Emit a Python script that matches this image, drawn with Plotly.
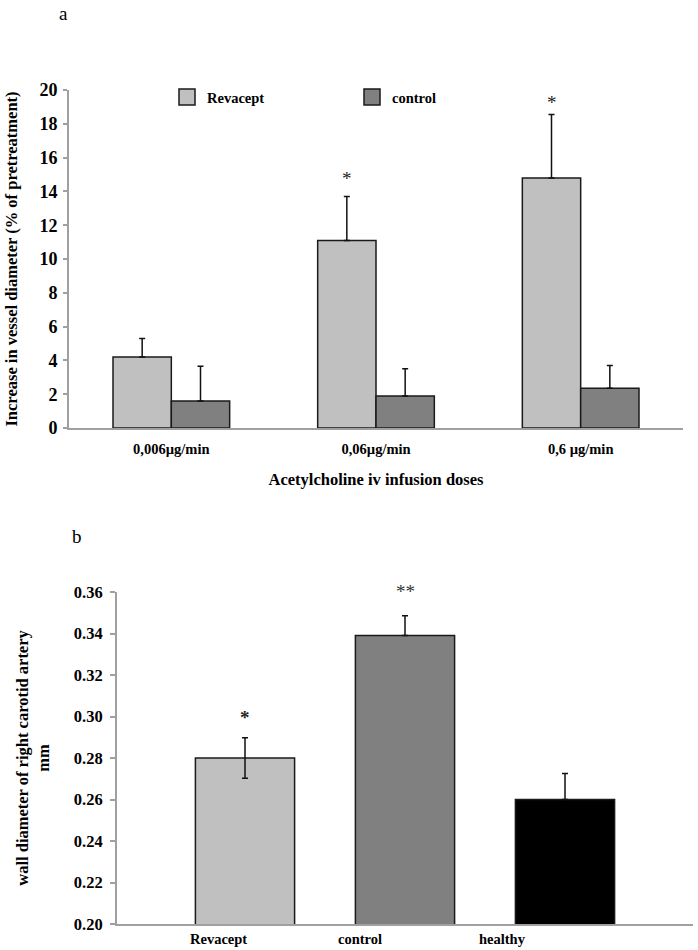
import plotly.graph_objects as go

# ---------------- data ----------------
doses = ["0,006µg/min", "0,06µg/min", "0,6 µg/min"]
revacept_a = [4.2, 11.1, 14.8]
revacept_a_err = [1.1, 2.6, 3.75]
control_a = [1.6, 1.9, 2.35]
control_a_err = [2.05, 1.6, 1.35]
stars_a = ["", "*", "*"]
star_a_y = [None, 14.75, 19.25]

groups_b = ["Revacept", "control", "healthy"]
wall_b = [0.280, 0.339, 0.260]
wall_b_err_plus = [0.0098, 0.0095, 0.0125]
wall_b_err_minus = [0.0098, 0.0, 0.0]
stars_b = ["*", "**", ""]
star_b_y = [0.2995, None, None]   # "**" sits at the top edge of panel b

ticks_a = list(range(0, 21, 2))
ticks_b = [0.20, 0.22, 0.24, 0.26, 0.28, 0.30, 0.32, 0.34, 0.36]

# ---------------- style ----------------
W, H = 698, 950
SERIF = "Liberation Serif, Times New Roman, serif"
LIGHT, MID, DARK = "#C0C0C0", "#808080", "#000000"
AXIS = "#A0A0A0"
BARGAP_A = 0.43

fig = go.Figure()

fig.add_trace(go.Bar(
    x=doses, y=revacept_a, name="Revacept", xaxis="x", yaxis="y", showlegend=False,
    marker=dict(color=LIGHT, line=dict(color="#1a1a1a", width=1.5)),
    error_y=dict(type="data", array=revacept_a_err, arrayminus=[0] * 3,
                 color="#111", thickness=1.5, width=3),
))
fig.add_trace(go.Bar(
    x=doses, y=control_a, name="control", xaxis="x", yaxis="y", showlegend=False,
    marker=dict(color=MID, line=dict(color="#1a1a1a", width=1.5)),
    error_y=dict(type="data", array=control_a_err, arrayminus=[0] * 3,
                 color="#111", thickness=1.5, width=3),
))
# legend proxies (larger square swatches like the original legend)
for nm, col in (("Revacept", LIGHT), ("control", MID)):
    fig.add_trace(go.Scatter(
        x=[None], y=[None], name=nm, mode="markers", xaxis="x", yaxis="y",
        marker=dict(symbol="square", size=16, color=col,
                    line=dict(color="#1a1a1a", width=1.5)),
        hoverinfo="skip",
    ))
fig.add_trace(go.Bar(
    x=groups_b, y=wall_b, xaxis="x2", yaxis="y2", showlegend=False,
    width=0.62,
    marker=dict(color=[LIGHT, MID, DARK], line=dict(color="#1a1a1a", width=1.5)),
    error_y=dict(type="data", array=wall_b_err_plus, arrayminus=wall_b_err_minus,
                 color="#111", thickness=1.5, width=3),
))

bold = dict(family=SERIF, color="black", weight="bold")

annotations = []
# significance stars panel a (over Revacept bars)
group_w = 1 - BARGAP_A
for i, (s, yv) in enumerate(zip(stars_a, star_a_y)):
    if s:
        annotations.append(dict(x=i - group_w / 4, y=yv, xref="x", yref="y", text=s,
                                showarrow=False, yanchor="middle",
                                font=dict(family=SERIF, size=19, color="#222")))
# significance stars panel b
for i, (s, yv) in enumerate(zip(stars_b, star_b_y)):
    if not s:
        continue
    if yv is None:
        annotations.append(dict(x=i, y=1, xref="x2", yref="y2 domain", text=s,
                                showarrow=False, yanchor="middle", yshift=1,
                                font=dict(family=SERIF, size=19, color="#333")))
    else:
        annotations.append(dict(x=i, y=yv, xref="x2", yref="y2", text=s,
                                showarrow=False, yanchor="middle",
                                font=dict(family=SERIF, size=19, color="#222",
                                          weight="bold")))
# panel b category labels (offset left as in the original)
shifts_b = [-27, -45, -63]
for i, (g, sh) in enumerate(zip(groups_b, shifts_b)):
    annotations.append(dict(x=i, y=0, xref="x2", yref="y2 domain", text=g,
                            showarrow=False, xshift=sh, yshift=-15, yanchor="middle",
                            font=dict(size=14.5, **bold)))
# panel letters
annotations.append(dict(x=63 / W, y=1, xref="paper", yref="paper", text="a",
                        showarrow=False, xanchor="center", yanchor="top", yshift=-1,
                        font=dict(family=SERIF, size=19, color="black")))
annotations.append(dict(x=77 / W, y=1 - 536 / H, xref="paper", yref="paper", text="b",
                        showarrow=False, xanchor="center", yanchor="middle",
                        font=dict(family=SERIF, size=19, color="black")))

fig.update_layout(
    width=W, height=H,
    margin=dict(l=0, r=0, t=0, b=0, autoexpand=False),
    paper_bgcolor="white", plot_bgcolor="white",
    barmode="group", bargap=BARGAP_A, bargroupgap=0,
    showlegend=True,
    legend=dict(orientation="h", x=167 / W, y=1 - 97 / H, xanchor="left", yanchor="middle",
                entrywidth=140, font=dict(size=14.5, **bold), itemsizing="trace",
                bgcolor="rgba(0,0,0,0)", itemwidth=30, traceorder="normal"),
    annotations=annotations,
    xaxis=dict(domain=[69 / W, 683 / W], anchor="y", type="category", automargin=False,
               range=[-0.5, 2.5], showline=True, linecolor=AXIS, linewidth=2,
               ticks="", showgrid=False, zeroline=False,
               tickfont=dict(size=14.5, **bold), ticklabelstandoff=7,
               title=dict(text="Acetylcholine iv infusion doses",
                          font=dict(size=16.5, **bold), standoff=17)),
    yaxis=dict(domain=[1 - 428 / H, 1 - 90 / H], anchor="x", range=[0, 20],
               automargin=False,
               tickvals=ticks_a, showline=True, linecolor=AXIS, linewidth=2,
               ticks="outside", ticklen=4, tickcolor=AXIS, tickwidth=1.5,
               showgrid=False, zeroline=False,
               tickfont=dict(size=18, **bold), ticklabelstandoff=2,
               title=dict(text="Increase in vessel diameter (% of pretreatment)",
                          font=dict(size=16.5, **bold), standoff=18)),
    xaxis2=dict(domain=[117 / W, 693 / W], anchor="y2", type="category", automargin=False,
                range=[-0.8, 2.8], showline=True, linecolor=AXIS, linewidth=2,
                ticks="", showticklabels=False, showgrid=False, zeroline=False),
    yaxis2=dict(domain=[1 - 924 / H, 1 - 592 / H], anchor="x2", range=[0.20, 0.36],
                automargin=False,
                tickvals=ticks_b, tickformat=".2f", showline=True, linecolor=AXIS,
                linewidth=2, ticks="outside", ticklen=5, tickcolor=AXIS, tickwidth=1.5,
                showgrid=False, zeroline=False,
                tickfont=dict(size=16.5, **bold), ticklabelstandoff=4,
                title=dict(text="wall diameter of right carotid artery<br>mm",
                           font=dict(size=16.5, **bold), standoff=20)),
)

# remove the browser's default 8px body margin so the figure sits at the page origin
fig.write_html("out.html", config={"displayModeBar": False},
               post_script="document.body.style.margin='0px';")
